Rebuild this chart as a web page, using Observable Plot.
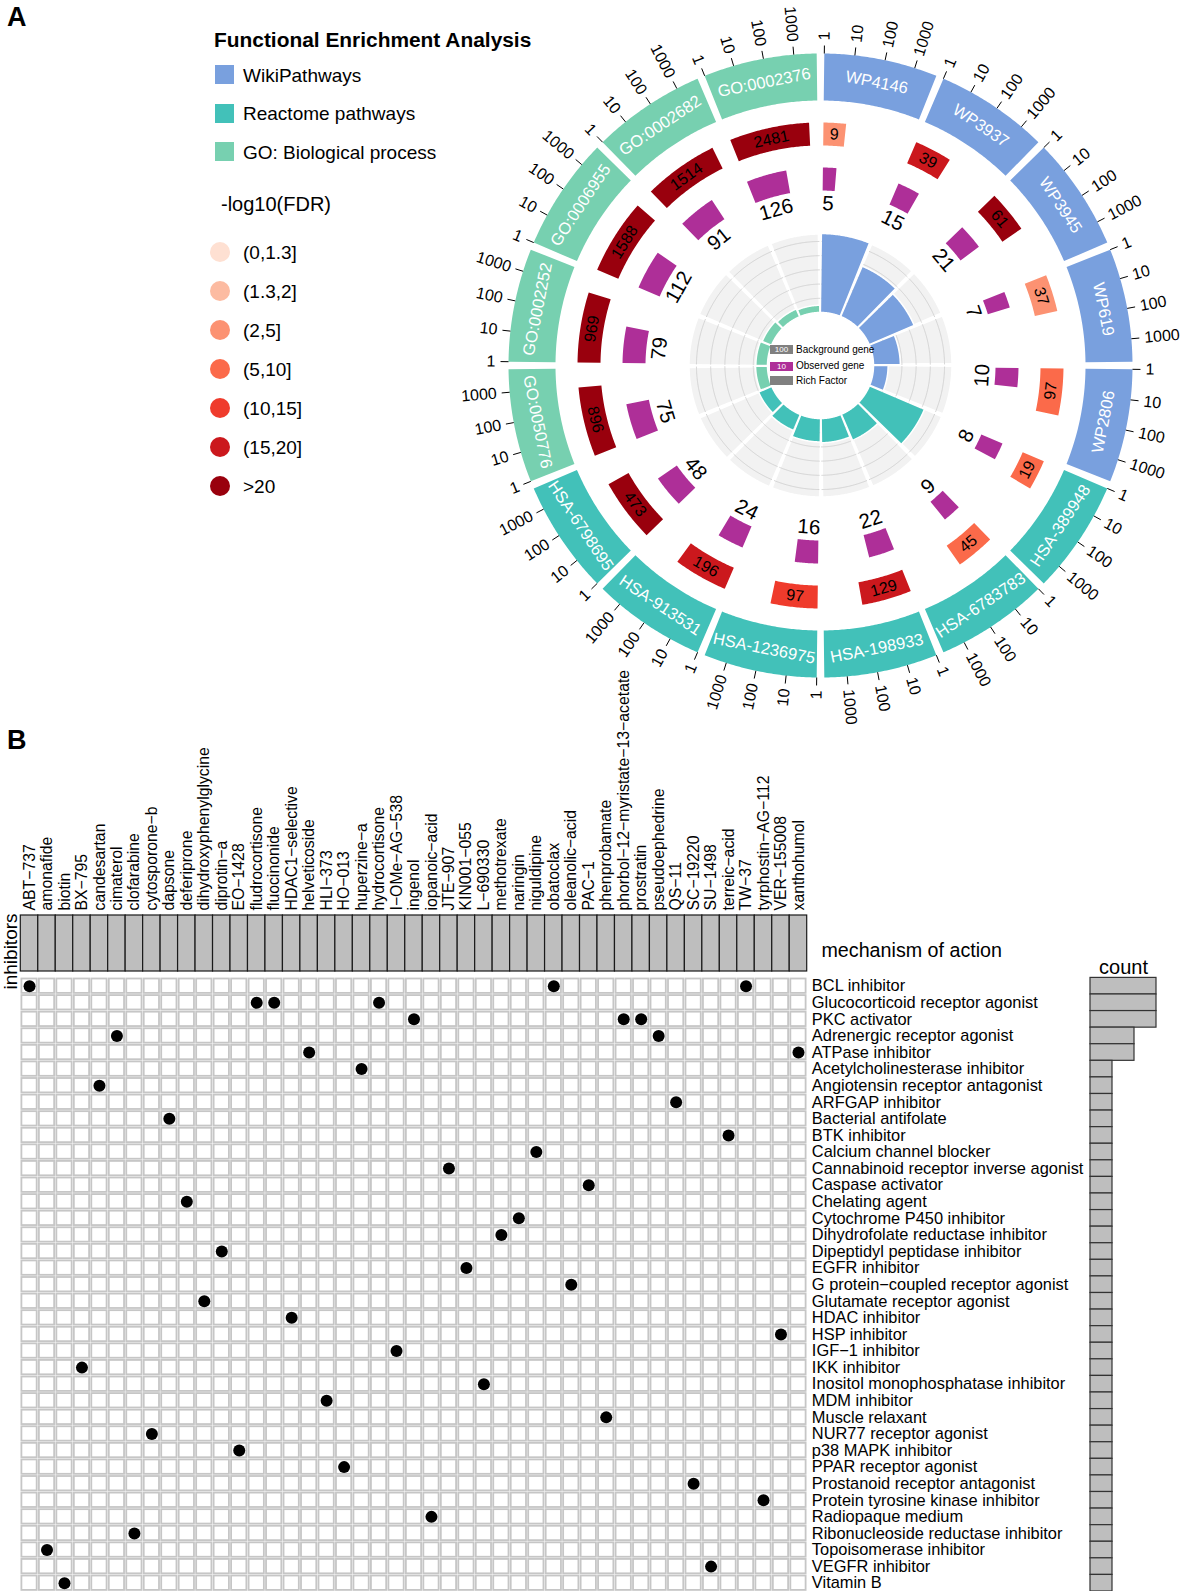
<!DOCTYPE html>
<html><head><meta charset="utf-8">
<script src="https://cdn.jsdelivr.net/npm/d3@7"></script>
<script src="https://cdn.jsdelivr.net/npm/@observablehq/plot@0.6"></script>
<style>
body{margin:0;background:#fff;font-family:"Liberation Sans",Arial,sans-serif;color:#000;}
#page{position:relative;width:1181px;height:1591px;overflow:hidden;background:#fff;}
.layer{position:absolute;left:0;}
.layer svg{overflow:visible;}
.lg{position:absolute;white-space:nowrap;line-height:1;}
</style></head><body><div id="page"></div>
<script>
// ---------------- DATA: panel A ----------------
const terms = ["WP4146","WP3937","WP3945","WP619","WP2806","HSA-389948","HSA-6783783","HSA-198933","HSA-1236975","HSA-913531","HSA-6798695","GO:0050776","GO:0002252","GO:0006955","GO:0002682","GO:0002376"];
const termCategory = ["WikiPathways","WikiPathways","WikiPathways","WikiPathways","WikiPathways","Reactome pathways","Reactome pathways","Reactome pathways","Reactome pathways","Reactome pathways","Reactome pathways","GO: Biological process","GO: Biological process","GO: Biological process","GO: Biological process","GO: Biological process"];
const backgroundGenes = [9,39,61,37,97,19,45,129,97,196,473,896,969,1588,1514,2481];
const observedGenes = [5,15,21,7,10,8,9,22,16,24,48,75,79,112,91,126];
const richFactor = [0.556,0.385,0.344,0.189,0.103,0.421,0.200,0.171,0.165,0.122,0.101,0.084,0.082,0.071,0.060,0.051];
const fdrClass = ["(2,5]","(15,20]",">20","(2,5]","(5,10]","(5,10]","(5,10]","(15,20]","(10,15]","(15,20]",">20",">20",">20",">20",">20",">20"];
const categories = ["WikiPathways","Reactome pathways","GO: Biological process"];
const categoryColors = ["#79A0DE","#42C1B9","#77D0B0"];
const fdrLevels = ["(0,1.3]","(1.3,2]","(2,5]","(5,10]","(10,15]","(15,20]",">20"];
const fdrColors = ["#FEE0D2","#FCBBA1","#FC9272","#FB6A4A","#EF3B2C","#CB181D","#99000D"];
const axisTicks = [1,10,100,1000];
const richTicks = [0.1,0.2,0.3,0.4,0.5];
const observedColor = "#AE2F98";

// ---------------- DATA: panel B ----------------
const drugs = ["ABT−737","amonafide","biotin","BX−795","candesartan","cimaterol","clofarabine","cytosporone−b","dapsone","deferiprone","dihydroxyphenylglycine","diprotin−a","EO−1428","fludrocortisone","fluocinonide","HDAC1−selective","helveticoside","HLI−373","HO−013","huperzine−a","hydrocortisone","I−OMe−AG−538","ingenol","iopanoic−acid","JTE−907","KIN001−055","L−690330","methotrexate","naringin","niguldipine","obatoclax","oleanolic−acid","PAC−1","phenprobamate","phorbol−12−myristate−13−acetate","prostratin","pseudoephedrine","QS−11","SC−19220","SU−1498","terreic−acid","TW−37","tyrphostin−AG−112","VER−155008","xanthohumol"];
const mechanisms = ["BCL inhibitor","Glucocorticoid receptor agonist","PKC activator","Adrenergic receptor agonist","ATPase inhibitor","Acetylcholinesterase inhibitor","Angiotensin receptor antagonist","ARFGAP inhibitor","Bacterial antifolate","BTK inhibitor","Calcium channel blocker","Cannabinoid receptor inverse agonist","Caspase activator","Chelating agent","Cytochrome P450 inhibitor","Dihydrofolate reductase inhibitor","Dipeptidyl peptidase inhibitor","EGFR inhibitor","G protein−coupled receptor agonist","Glutamate receptor agonist","HDAC inhibitor","HSP inhibitor","IGF−1 inhibitor","IKK inhibitor","Inositol monophosphatase inhibitor","MDM inhibitor","Muscle relaxant","NUR77 receptor agonist","p38 MAPK inhibitor","PPAR receptor agonist","Prostanoid receptor antagonist","Protein tyrosine kinase inhibitor","Radiopaque medium","Ribonucleoside reductase inhibitor","Topoisomerase inhibitor","VEGFR inhibitor","Vitamin B"];
const mechanismDrugs = [
 ["ABT−737","obatoclax","TW−37"],
 ["fludrocortisone","fluocinonide","hydrocortisone"],
 ["ingenol","phorbol−12−myristate−13−acetate","prostratin"],
 ["cimaterol","pseudoephedrine"],
 ["helveticoside","xanthohumol"],
 ["huperzine−a"],["candesartan"],["QS−11"],["dapsone"],["terreic−acid"],["niguldipine"],["JTE−907"],["PAC−1"],["deferiprone"],["naringin"],["methotrexate"],["diprotin−a"],["KIN001−055"],["oleanolic−acid"],["dihydroxyphenylglycine"],["HDAC1−selective"],["VER−155008"],["I−OMe−AG−538"],["BX−795"],["L−690330"],["HLI−373"],["phenprobamate"],["cytosporone−b"],["EO−1428"],["HO−013"],["SC−19220"],["tyrphostin−AG−112"],["iopanoic−acid"],["clofarabine"],["amonafide"],["SU−1498"],["biotin"]
];
const mechanismCounts = [3,3,3,2,2,1,1,1,1,1,1,1,1,1,1,1,1,1,1,1,1,1,1,1,1,1,1,1,1,1,1,1,1,1,1,1,1];

// ---------------- helpers ----------------
const FONT = "'Liberation Sans', Arial, Helvetica, sans-serif";
const page = document.getElementById("page");
function addLayer(node, top, left=0){ const d=document.createElement("div"); d.className="layer"; d.style.top=top+"px"; d.style.left=left+"px"; d.appendChild(node); page.appendChild(d); return d; }
function addDiv(html, style){ const d=document.createElement("div"); d.className="lg"; d.innerHTML=html; Object.assign(d.style, style); page.appendChild(d); return d; }

// ---------------- PANEL A geometry ----------------
const cx = 820, cy = 365;
const span = 360 / terms.length, gap = 0.7;
const RING = [265, 312], TICK = [312, 320], TICKLAB = 325;
const FDR = [220, 243], OBS = [175, 198], OBSLAB = 162;
const TRACK = [53, 132];
const rad = a => a * Math.PI / 180;
const polar = (a, r) => [cx + r * Math.sin(rad(a)), cy - r * Math.cos(rad(a))];
const sectorScale = i => d3.scaleLinear().domain([0, 3.75]).range([i*span + gap, (i+1)*span - gap]);
const rfScale = d3.scaleLinear().domain([0, d3.max(richFactor)]).range(TRACK);
const catColor = i => categoryColors[categories.indexOf(termCategory[i])];
const fdrColor = i => fdrColors[fdrLevels.indexOf(fdrClass[i])];
const norm = a => ((a % 360) + 360) % 360;
const tangentRot = a => { a = norm(a); return a < 90 ? a : a < 270 ? a - 180 : a - 360; };

function bandPoly(id, a0, a1, r0, r1, color){
  const n = Math.max(2, Math.ceil(Math.abs(a1 - a0) / 0.4));
  const pts = [];
  for (let k = 0; k <= n; k++){ const [x,y] = polar(a0 + (a1-a0)*k/n, r1); pts.push({id, x, y, color}); }
  for (let k = n; k >= 0; k--){ const [x,y] = polar(a0 + (a1-a0)*k/n, r0); pts.push({id, x, y, color}); }
  return pts;
}
function arcLine(id, a0, a1, r){
  const n = Math.max(2, Math.ceil(Math.abs(a1 - a0) / 0.4)); const pts = [];
  for (let k = 0; k <= n; k++){ const [x,y] = polar(a0 + (a1-a0)*k/n, r); pts.push({id, x, y}); }
  return pts;
}

const ringPolys = [], trackPolys = [], gridArcs = [], rfPolys = [], fdrPolys = [], obsPolys = [];
const ticks = [], tickLabR = [], tickLabL = [], sectorLabels = [], fdrLabels = [], obsLabels = [];
terms.forEach((t, i) => {
  const sc = sectorScale(i);
  const a0 = i*span + gap, a1 = (i+1)*span - gap, mid = (a0 + a1) / 2;
  ringPolys.push(...bandPoly("ring"+i, a0, a1, RING[0], RING[1], catColor(i)));
  const [lx, ly] = polar(mid, (RING[0]+RING[1])/2);
  sectorLabels.push({x: lx, y: ly, text: t, rot: tangentRot(mid)});
  axisTicks.forEach(v => {
    const a = sc(Math.log10(v));
    const [x1,y1] = polar(a, TICK[0]), [x2,y2] = polar(a, TICK[1]), [tx,ty] = polar(a, TICKLAB);
    ticks.push({x1,y1,x2,y2});
    const na = norm(a);
    if (na < 180) tickLabR.push({x: tx, y: ty, text: String(v), rot: na - 90});
    else tickLabL.push({x: tx, y: ty, text: String(v), rot: na - 270});
  });
  const b1 = sc(Math.log10(backgroundGenes[i]));
  fdrPolys.push(...bandPoly("fdr"+i, a0, b1, FDR[0], FDR[1], fdrColor(i)));
  const [fx, fy] = polar((a0+b1)/2, (FDR[0]+FDR[1])/2);
  fdrLabels.push({x: fx, y: fy, text: String(backgroundGenes[i]), rot: tangentRot((a0+b1)/2)});
  const o1 = sc(Math.log10(observedGenes[i]));
  obsPolys.push(...bandPoly("obs"+i, a0, o1, OBS[0], OBS[1], observedColor));
  const [ox, oy] = polar((a0+o1)/2, OBSLAB);
  obsLabels.push({x: ox, y: oy, text: String(observedGenes[i]), rot: tangentRot((a0+o1)/2)});
  trackPolys.push(...bandPoly("trk"+i, a0, a1, TRACK[0], TRACK[1], "#f2f2f2"));
  richTicks.forEach((rt, k) => gridArcs.push(...arcLine("g"+i+"_"+k, a0, a1, rfScale(rt))));
  rfPolys.push(...bandPoly("rf"+i, a0, a1, TRACK[0], rfScale(richFactor[i]), catColor(i)));
});

const plotA = Plot.plot({
  width: 1181, height: 720, margin: 0,
  x: {domain: [0, 1181], range: [0, 1181], axis: null},
  y: {domain: [0, 720], range: [0, 720], axis: null},
  color: {type: "identity"},
  style: {background: "transparent", fontFamily: FONT, overflow: "visible"},
  marks: [
    Plot.line(trackPolys, {x: "x", y: "y", z: "id", fill: "#f2f2f2", stroke: "white", strokeWidth: 2.5}),
    Plot.line(gridArcs, {x: "x", y: "y", z: "id", stroke: "#cfcfcf", strokeWidth: 0.9}),
    Plot.line(rfPolys, {x: "x", y: "y", z: "id", fill: "color", stroke: "white", strokeWidth: 1.5}),
    Plot.line(ringPolys, {x: "x", y: "y", z: "id", fill: "color", stroke: "none"}),
    Plot.line(fdrPolys, {x: "x", y: "y", z: "id", fill: "color", stroke: "none"}),
    Plot.line(obsPolys, {x: "x", y: "y", z: "id", fill: "color", stroke: "none"}),
    Plot.link(ticks, {x1: "x1", y1: "y1", x2: "x2", y2: "y2", stroke: "black", strokeWidth: 1}),
    Plot.text(tickLabR, {x: "x", y: "y", text: "text", rotate: "rot", textAnchor: "start", fontSize: 16, fill: "black"}),
    Plot.text(tickLabL, {x: "x", y: "y", text: "text", rotate: "rot", textAnchor: "end", fontSize: 16, fill: "black"}),
    Plot.text(sectorLabels, {x: "x", y: "y", text: "text", rotate: "rot", fontSize: 16.5, fill: "white"}),
    Plot.text(fdrLabels, {x: "x", y: "y", text: "text", rotate: "rot", fontSize: 16, fill: "black"}),
    Plot.text(obsLabels, {x: "x", y: "y", text: "text", rotate: "rot", fontSize: 20.5, fill: "black"})
  ]
});
addLayer(plotA, 0);

// panel letters
addDiv("A", {left: "7px", top: "4px", fontWeight: "bold", fontSize: "27px"});
addDiv("B", {left: "7px", top: "727px", fontWeight: "bold", fontSize: "27px"});

// left legend for panel A
addDiv("Functional Enrichment Analysis", {left: "214px", top: "30px", fontWeight: "bold", fontSize: "20.9px"});
categories.forEach((c, i) => {
  addDiv("", {left: "215px", top: (65 + i*38.5) + "px", width: "19px", height: "19px", background: categoryColors[i]});
  addDiv(c, {left: "243px", top: (65.5 + i*38.5) + "px", fontSize: "19px"});
});
addDiv("-log10(FDR)", {left: "221px", top: "193.5px", fontSize: "20px"});
fdrLevels.forEach((l, i) => {
  addDiv("", {left: "209.5px", top: (242 + i*39) + "px", width: "20px", height: "20px", borderRadius: "50%", background: fdrColors[i]});
  addDiv(l, {left: "243px", top: (242.5 + i*39) + "px", fontSize: "19px"});
});

// centre legend
[["100", "#808080", "Background gene", 345], ["10", observedColor, "Observed gene", 361.5], ["", "#808080", "Rich Factor", 376]].forEach(([t, col, lab, top]) => {
  addDiv(t, {left: "770px", top: top + "px", width: "23px", height: "9px", background: col, color: "white", fontSize: "8px", lineHeight: "9px", textAlign: "center"});
  addDiv(lab, {left: "796px", top: (top - 0.5) + "px", fontSize: "10px", lineHeight: "10px"});
});

// ---------------- PANEL B ----------------
const xRange = [20.3, 806.7];
const plotHeader = Plot.plot({
  width: 1181, height: 257, margin: 0,
  x: {domain: drugs, range: xRange, padding: 0, round: false, axis: null},
  y: {domain: ["inhibitors"], range: [195, 251], padding: 0, round: false, axis: null},
  style: {background: "transparent", fontFamily: FONT, overflow: "visible"},
  marks: [
    Plot.cell(drugs, {x: d => d, y: () => "inhibitors", fill: "#bebebe", stroke: "#1a1a1a", strokeWidth: 1.2}),
    Plot.text(drugs, {x: d => d, y: () => "inhibitors", dy: -33, rotate: -90, textAnchor: "start", fontSize: 15.8, fill: "black"}),
    Plot.text(["inhibitors"], {x: () => drugs[0], dx: -18.5, y: () => "inhibitors", dy: 8, rotate: -90, fontSize: 19, fill: "black"}),
    Plot.text(["mechanism of action"], {x: () => drugs[drugs.length - 1], dx: 23, y: () => "inhibitors", dy: 7, textAnchor: "start", fontSize: 19.7, fill: "black"})
  ]
});
addLayer(plotHeader, 720);

const links = mechanismDrugs.flatMap((ds, i) => ds.map(d => ({drug: d, mechanism: mechanisms[i]})));
const plotGrid = Plot.plot({
  width: 1181, height: 614, margin: 0,
  x: {domain: drugs, range: xRange, padding: 0, round: false, axis: null},
  y: {domain: mechanisms, range: [0.4, 614], padding: 0, round: false, axis: null},
  style: {background: "transparent", fontFamily: FONT, overflow: "visible"},
  marks: [
    Plot.cell(d3.cross(drugs, mechanisms), {x: d => d[0], y: d => d[1], fill: "white", stroke: "#c6c6c6", strokeWidth: 1.8, inset: 1.1}),
    Plot.dot(links, {x: "drug", y: "mechanism", r: 6, fill: "black", stroke: "none"}),
    Plot.text(mechanisms, {x: () => drugs[drugs.length - 1], dx: 13.4, y: d => d, textAnchor: "start", fontSize: 16.4, fill: "black"})
  ]
});
addLayer(plotGrid, 977);

const countData = mechanisms.map((m, i) => ({mechanism: m, count: mechanismCounts[i]}));
const plotCount = Plot.plot({
  width: 1181, height: 651, margin: 0,
  x: {domain: [0, 3], range: [1090, 1156], axis: null},
  y: {domain: mechanisms, range: [37.4, 651], padding: 0, round: false, axis: null},
  style: {background: "transparent", fontFamily: FONT, overflow: "visible"},
  marks: [
    Plot.barX(countData, {x: "count", y: "mechanism", fill: "#bebebe", stroke: "#333", strokeWidth: 1.2}),
    Plot.text(["count"], {x: () => d3.max(mechanismCounts) / 2, y: () => mechanisms[0], dy: -19, fontSize: 20, fill: "black"})
  ]
});
addLayer(plotCount, 940);
</script></body></html>
